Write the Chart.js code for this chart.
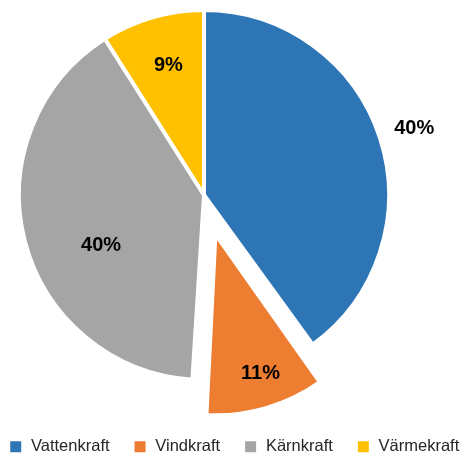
<!DOCTYPE html>
<html>
<head>
<meta charset="utf-8">
<script src="https://cdn.jsdelivr.net/npm/chart.js@4.4.1/dist/chart.umd.min.js"></script>
<style>
  html, body { margin: 0; padding: 0; background: #fff; overflow: hidden; }
  #wrap { position: relative; width: 465px; height: 455px; overflow: hidden; }
  #pie { position: absolute; left: -26.5px; top: 0; }
</style>
</head>
<body>
<div id="wrap"><canvas id="pie" width="520" height="465"></canvas></div>
<script>
// data
var categories = ['Vattenkraft', 'Vindkraft', 'Kärnkraft', 'Värmekraft'];
var shares = [40, 11, 40, 9];
var shareLabels = ['40%', '11%', '40%', '9%'];

// styling
var sliceColors = ['#2E75B6', '#ED7D31', '#A5A5A5', '#FFC000'];
var explode = [0, 164, 0, 0];         // chart.js moves the slice offset/4 px
var labelDist = [221, 186, 114, 136]; // px from pie centre
var labelTurn = [0, -1.5, -11, 1];    // degrees off the slice bisector
var CX = 230, CY = 195;               // pie centre in canvas px

// put the pie where the picture has it (legend keeps its own box)
var placePie = {
	id: 'placePie',
	afterLayout: function(chart) {
		var a = chart.chartArea;
		a.left = CX - 200; a.right = CX + 200;
		a.top = CY - 200; a.bottom = CY + 200;
		a.width = 400; a.height = 400;
	},
	afterDatasetsUpdate: function(chart) {
		// exploded slice is drawn a little smaller than the rest
		var arc = chart.getDatasetMeta(0).data[1];
		arc.outerRadius = 166;
	}
};

var sliceLabels = {
	id: 'sliceLabels',
	afterDatasetsDraw: function(chart) {
		var ctx = chart.ctx;
		var arcs = chart.getDatasetMeta(0).data;
		ctx.save();
		ctx.font = 'bold 20px "Liberation Sans", Arial, sans-serif';
		ctx.fillStyle = '#000';
		ctx.textAlign = 'center';
		ctx.textBaseline = 'middle';
		arcs.forEach(function(arc, i) {
			var mid = (arc.startAngle + arc.endAngle) / 2 + labelTurn[i] * Math.PI / 180;
			ctx.fillText(shareLabels[i], arc.x + Math.cos(mid) * labelDist[i], arc.y + 1.5 + Math.sin(mid) * labelDist[i]);
		});
		ctx.restore();
	}
};

var ctx = document.getElementById('pie');
var chart = new Chart(ctx, {
	type: 'pie',
	data: {
		labels: categories,
		datasets: [{
			data: shares,
			backgroundColor: sliceColors,
			borderColor: '#ffffff',
			borderWidth: 4,
			offset: explode,
			clip: false
		}]
	},
	options: {
		responsive: false,
		animation: false,
		radius: 185,
		events: [],
		plugins: {
			tooltip: { enabled: false },
			legend: {
				position: 'bottom',
				labels: {
					usePointStyle: true,
					boxWidth: 14,
					boxHeight: 11,
					padding: 23.5,
					color: '#262626',
					font: { family: '"Liberation Sans", Arial, sans-serif', size: 16.5 },
					generateLabels: function() {
						return categories.map(function(text, i) {
							return {
								text: text,
								fillStyle: sliceColors[i],
								strokeStyle: sliceColors[i],
								lineWidth: 0,
								pointStyle: 'rect',
								fontColor: '#262626',
								hidden: false,
								index: i
							};
						});
					}
				}
			}
		}
	},
	plugins: [placePie, sliceLabels]
});
</script>
</body>
</html>
